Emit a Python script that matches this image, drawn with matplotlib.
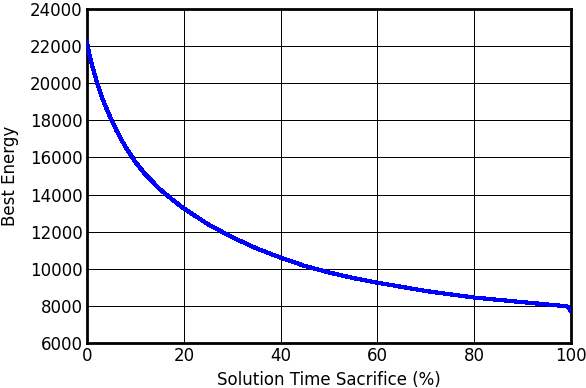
import matplotlib
matplotlib.use("Agg")
import matplotlib.pyplot as plt

sacrifice = [0, 0.5, 1, 2, 3, 4, 5, 6, 7, 8, 10, 12, 15, 17.5, 20, 25, 30, 35, 40, 45, 50, 55,
             60, 70, 80, 90, 95, 99, 99.5, 100]
best_energy = [22200, 21550, 21000, 20100, 19300, 18650, 18050, 17500, 17000, 16550, 15750, 15100,
               14300, 13750, 13250, 12400, 11700, 11100, 10600, 10150, 9800, 9500,
               9250, 8800, 8450, 8200, 8080, 7980, 7950, 7700]

plt.rcParams['font.family'] = ['DejaVu Sans']

fig = plt.figure(figsize=(5.86, 3.88), dpi=100)
ax = fig.add_axes([0.1485, 0.116, 0.8259, 0.8608])
ax.plot(sacrifice, best_energy, color='#0000ff', lw=2.3, antialiased=False, zorder=3)
ax.set_xlim(0, 100)
ax.set_ylim(6000, 24000)
ax.set_xticks([0, 20, 40, 60, 80, 100])
ax.set_yticks(range(6000, 24001, 2000))
ax.grid(True, color='black', lw=0.7, ls='-', antialiased=False)
ax.set_axisbelow(True)
for s in ax.spines.values():
    s.set_linewidth(2.0)
ax.tick_params(direction='in', length=0, labelsize=12, pad=3)
ax.set_xlabel('Solution Time Sacrifice (%)', fontsize=12, labelpad=4)
ax.set_ylabel('Best Energy', fontsize=12, labelpad=8)
fig.savefig('out.png', dpi=100)
